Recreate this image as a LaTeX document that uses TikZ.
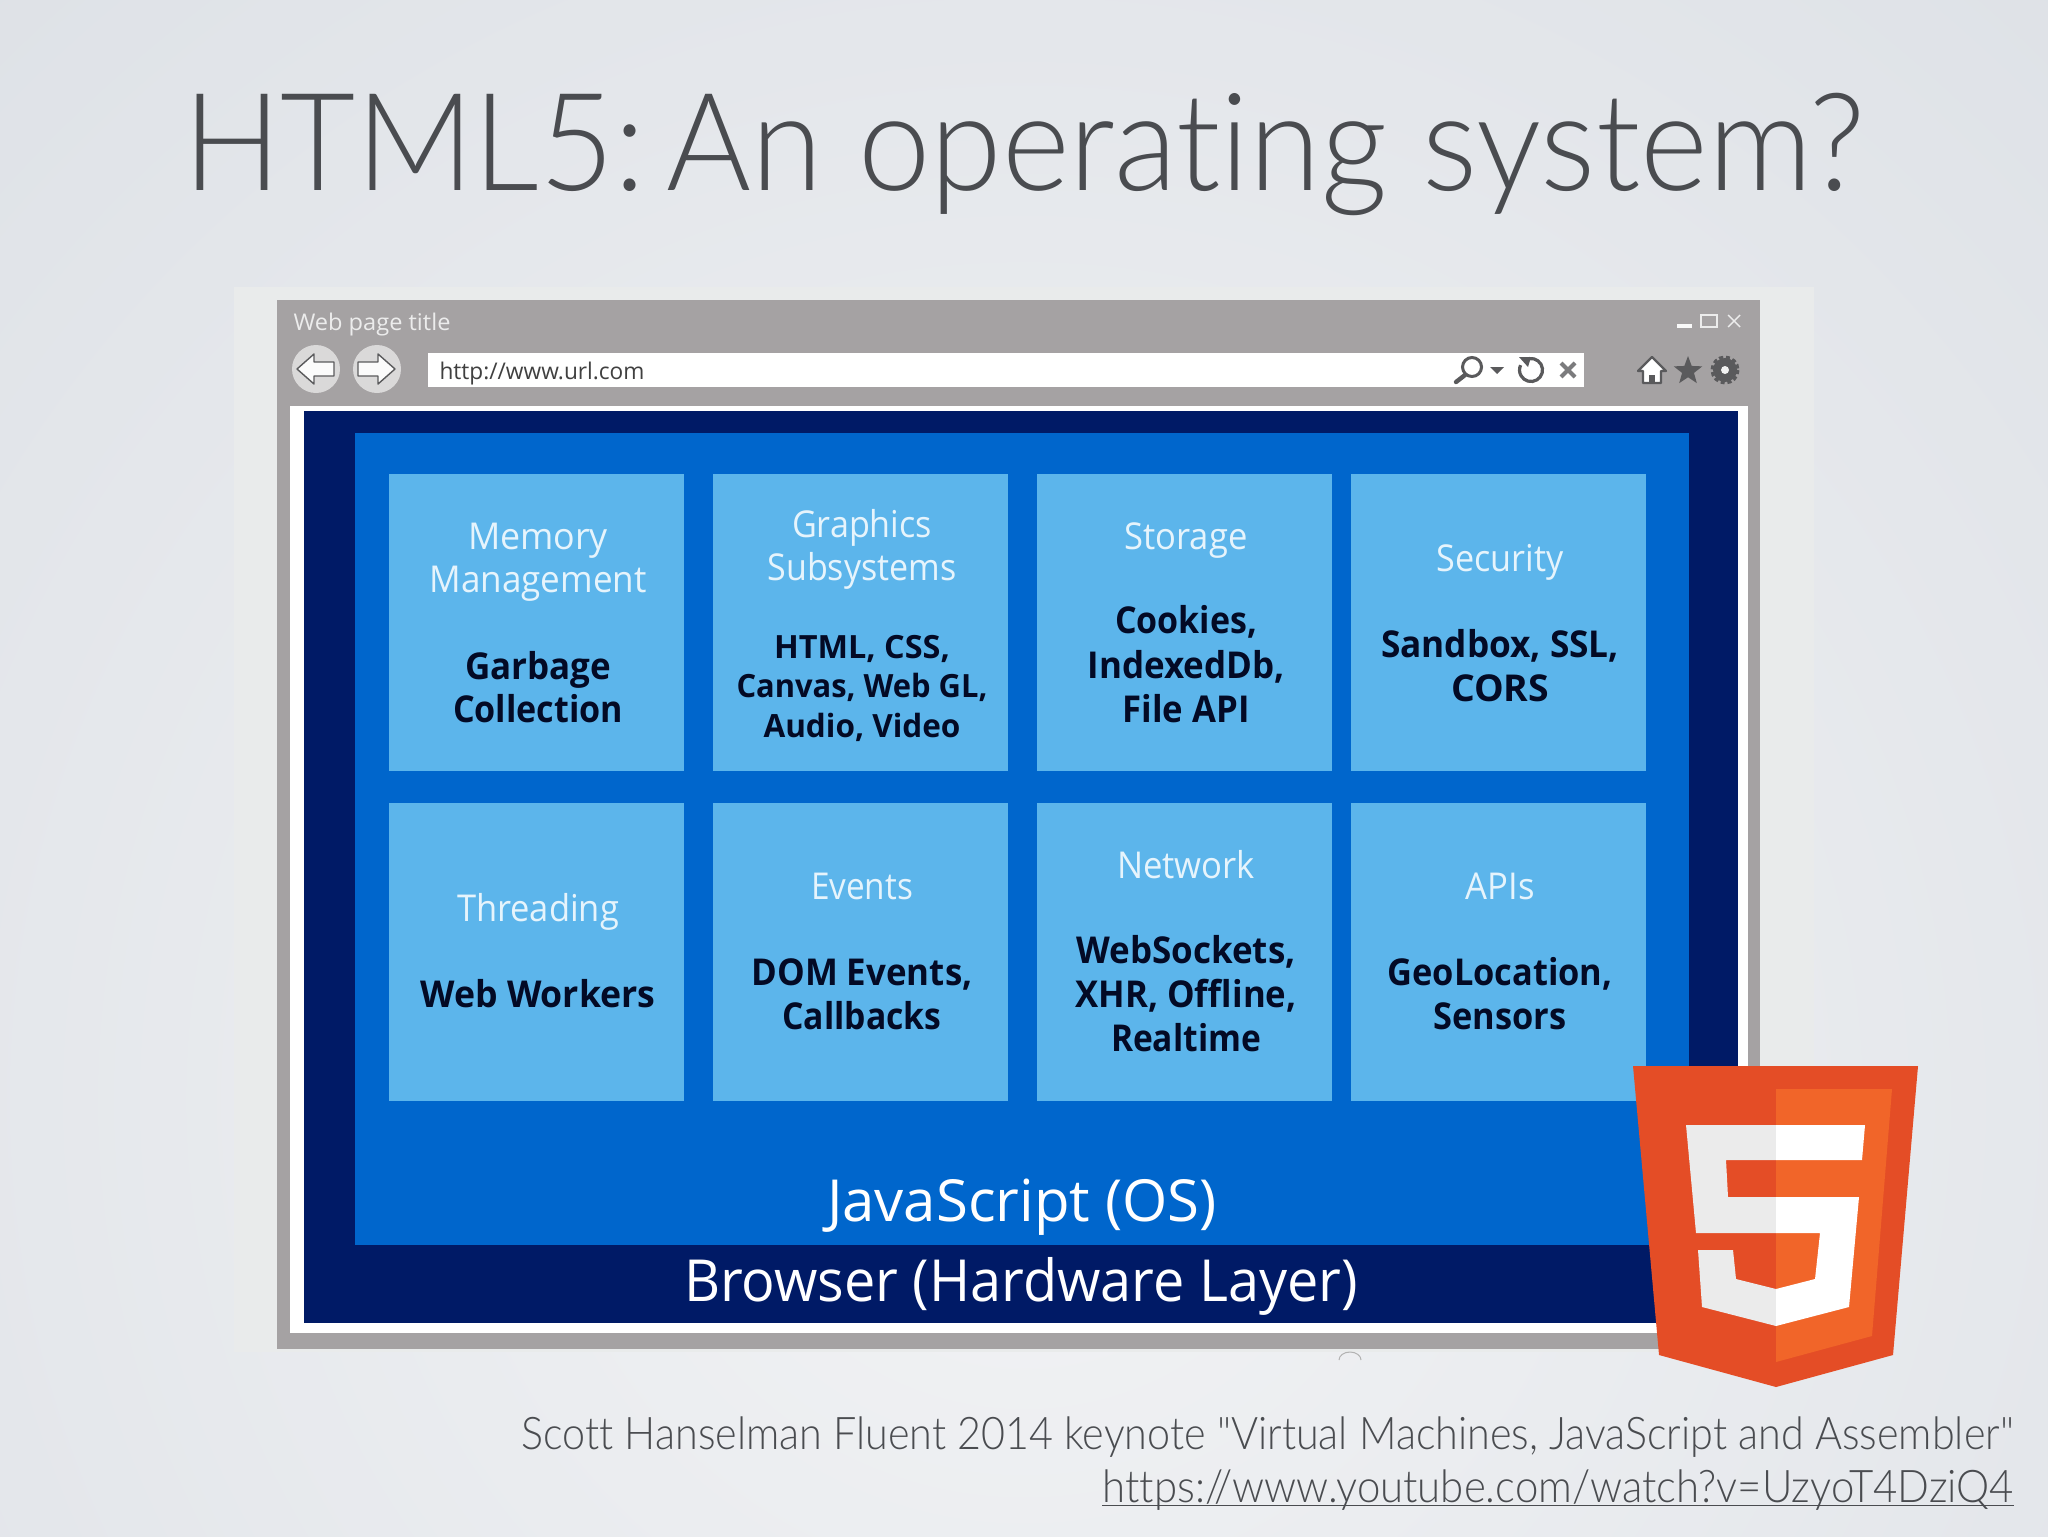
\documentclass[tikz,border=0pt]{standalone}
\usepackage{fontspec}
\usepackage{graphicx}
\usetikzlibrary{shapes.geometric}
\setmainfont{Open Sans}
\newfontfamily\gillish[Ligatures=NoCommon]{Lato Light}
\definecolor{wingray}{HTML}{A5A2A3}
\definecolor{navyb}{HTML}{001A66}
\definecolor{midb}{HTML}{0066CC}
\definecolor{tileb}{HTML}{5CB5EB}
\definecolor{inkg}{HTML}{4A4C50}
\definecolor{icong}{HTML}{5A5A5C}
\definecolor{ltext}{HTML}{E6F4FC}
\definecolor{dtext}{HTML}{030A25}
\definecolor{orA}{HTML}{E44D26}
\definecolor{orB}{HTML}{F16529}
\definecolor{bgin}{HTML}{F2F3F5}
\definecolor{bgout}{HTML}{CBD1D9}
\definecolor{panelg}{HTML}{E9EBEB}
\definecolor{btng}{HTML}{DAD9D9}
\pgfdeclareradialshading{bgsh}{\pgfpoint{0bp}{0bp}}{color(0bp)=(bgin); color(50bp)=(bgout)}
\newcommand\tline[6]{\node[#5,anchor=base,inner sep=0pt] (#1) at (#2,#3) {\resizebox{\dimexpr#4pt/2\relax}{\height}{#6}};}
\tikzset{
 tilehead/.style={font=\fontsize{18.5}{20}\selectfont,text=ltext},
 tilebody/.style={font=\fontsize{18.5}{20}\selectfont\bfseries,text=dtext},
 tilebodys/.style={font=\fontsize{16}{18}\selectfont\bfseries,text=dtext},
 bigw/.style={font=\fontsize{29}{30}\selectfont,text=white},
 foot/.style={font=\gillish\fontsize{22.5}{24}\selectfont,text=inkg},
 winbar/.style={font=\fontsize{11.5}{13}\selectfont},
 tile/.style={fill=tileb},
 ic/.style={draw=icong,line width=1.6pt},
}
\begin{document}
\begin{tikzpicture}[x=0.5pt,y=-0.5pt]
\useasboundingbox (0,0) rectangle (2048,1536);
\begin{scope}
\clip (0,0) rectangle (2048,1536);
\shade[shading=bgsh] (-476,-400) rectangle (2524,2600);
\end{scope}
% title
\tline{title}{1024}{190}{1682}{font=\gillish\fontsize{68}{80}\selectfont,text=inkg}{HTML5:\hspace{-0.2em} An operating system?}
% panel & window
\fill[panelg] (234,287) rectangle (1814,1352);
\fill[wingray] (277,300) rectangle (1760,1349);
\fill[white] (290,406) rectangle (1748,1333);
\fill[navyb] (304,411) rectangle (1738,1323);
\fill[midb] (355,433) rectangle (1689,1245);
% title bar
\tline{wintitle}{372}{330}{157}{winbar,text=white!85!gray}{Web page title}
\fill[white!95!gray] (1677,324) rectangle (1692,328);
\draw[white!85!gray,line width=.9pt] (1701,315) rectangle (1717,327);
\draw[white!85!gray,line width=.7pt] (1728,315) -- (1740,327) (1740,315) -- (1728,327);
% back / forward
\node[circle,fill=btng,minimum size=24pt,inner sep=0pt] (backb) at (316,369) {};
\node[circle,fill=btng,minimum size=24pt,inner sep=0pt] (fwdb) at (377,369) {};
\draw[icong,line width=.7pt,fill=white!97!gray,line join=round] (297,369) -- (314,354) -- (314,362) -- (334,362) -- (334,376) -- (314,376) -- (314,384) -- cycle;
\draw[icong,line width=.7pt,fill=white!97!gray,line join=round] (395,369) -- (378,354) -- (378,362) -- (358,362) -- (358,376) -- (378,376) -- (378,384) -- cycle;
% url bar
\fill[white] (428,353) rectangle (1584,387);
\tline{url}{542}{379}{205}{winbar,text=black!75}{http://www.url.com}
\draw[ic,line width=1.5pt] (1472,367) circle (9.5);
\draw[icong,line width=2.2pt,line cap=round] (1465,375) -- (1456,382);
\fill[icong] (1490,367) -- (1504,367) -- (1497,374) -- cycle;
\draw[ic,line width=1.6pt] (1531,370) ++(-120:11.5) arc (-120:205:11.5);
\fill[icong] (1519,357) -- (1531,357) -- (1528,367) -- cycle;
\draw[icong!80,line width=2pt] (1561,363) -- (1575,377) (1575,363) -- (1561,377);
% home star gear
\draw[icong,line width=1.1pt,fill=white,line join=round] (1638,371) -- (1652,357) -- (1666,371) -- (1661,371) -- (1661,383) -- (1643,383) -- (1643,371) -- cycle;
\fill[icong] (1649,375) rectangle (1655,383);
\node[star,star points=5,star point ratio=2.4,fill=icong,minimum size=15pt,inner sep=0pt] (starb) at (1688,371) {};
\draw[icong,line width=2pt,dash pattern=on 2pt off 1.3pt] (1725,370) circle (12.5);
\fill[icong] (1725,370) circle (12);
\fill[white!90!gray] (1725,370) circle (4);
% tiles
\foreach \xa/\xb in {389/684,713/1008,1037/1332,1351/1646}{
 \fill[tile] (\xa,474) rectangle (\xb,771);
 \fill[tile] (\xa,803) rectangle (\xb,1101);
}
% text row 1
\tline{a1}{538}{549}{140}{tilehead}{Memory}
\tline{a2}{538}{592}{217}{tilehead}{Management}
\tline{a3}{538}{679}{146}{tilebody}{Garbage}
\tline{a4}{538}{722}{170}{tilebody}{Collection}
\tline{b1}{862}{537}{140}{tilehead}{Graphics}
\tline{b2}{862}{580}{189}{tilehead}{Subsystems}
\tline{b3}{862}{658}{176}{tilebodys}{HTML, CSS,}
\tline{b4}{862}{697}{251}{tilebodys}{Canvas, Web GL,}
\tline{b5}{862}{737}{197}{tilebodys}{Audio, Video}
\tline{c1}{1186}{549}{123}{tilehead}{Storage}
\tline{c2}{1186}{633}{142}{tilebody}{Cookies,}
\tline{c3}{1186}{678}{197}{tilebody}{IndexedDb,}
\tline{c4}{1186}{722}{127}{tilebody}{File API}
\tline{d1}{1500}{571}{127}{tilehead}{Security}
\tline{d2}{1500}{657}{238}{tilebody}{Sandbox, SSL,}
\tline{d3}{1500}{701}{98}{tilebody}{CORS}
% text row 2
\tline{e1}{538}{921}{162}{tilehead}{Threading}
\tline{e2}{538}{1007}{235}{tilebody}{Web Workers}
\tline{f1}{862}{899}{102}{tilehead}{Events}
\tline{f2}{862}{985}{221}{tilebody}{DOM Events,}
\tline{f3}{862}{1029}{159}{tilebody}{Callbacks}
\tline{g1}{1186}{878}{138}{tilehead}{Network}
\tline{g2}{1186}{963}{219}{tilebody}{WebSockets,}
\tline{g3}{1186}{1007}{221}{tilebody}{XHR, Offline,}
\tline{g4}{1186}{1051}{150}{tilebody}{Realtime}
\tline{h1}{1500}{899}{69}{tilehead}{APIs}
\tline{h2}{1500}{985}{225}{tilebody}{GeoLocation,}
\tline{h3}{1500}{1029}{133}{tilebody}{Sensors}
% layers
\tline{jsos}{1022}{1221}{390}{bigw}{JavaScript (OS)}
\tline{brow}{1021}{1301}{674}{bigw}{Browser (Hardware Layer)}
% small arc
\draw[black!30,line width=.5pt] (1339,1360) arc (-180:0:11 and 8);
% logo
\fill[orA] (1633,1066) -- (1918,1066) -- (1893,1355) -- (1776,1387) -- (1659,1355) -- cycle;
\fill[orB] (1776,1089) -- (1892,1089) -- (1872,1336) -- (1776,1362) -- cycle;
\begin{scope}
\clip (1600,1040) rectangle (1776,1400);
\fill[white!92!black] (1686,1125) -- (1865,1125) -- (1862,1160) -- (1726,1160) -- (1728,1197) -- (1859,1197) -- (1849,1307) -- (1776,1326) -- (1702,1307) -- (1698,1250) -- (1733,1250) -- (1736,1279) -- (1776,1289) -- (1815,1279) -- (1820,1233) -- (1696,1233) -- cycle;
\end{scope}
\begin{scope}
\clip (1776,1040) rectangle (1950,1400);
\fill[white] (1686,1125) -- (1865,1125) -- (1862,1160) -- (1726,1160) -- (1728,1197) -- (1859,1197) -- (1849,1307) -- (1776,1326) -- (1702,1307) -- (1698,1250) -- (1733,1250) -- (1736,1279) -- (1776,1289) -- (1815,1279) -- (1820,1233) -- (1696,1233) -- cycle;
\end{scope}
% footer
\node[foot,anchor=base east,inner sep=0pt] (foot1) at (2014,1449) {\resizebox{746pt}{\height}{Scott Hanselman Fluent 2014 keynote "Virtual Machines, JavaScript and Assembler"}};
\node[foot,anchor=base east,inner sep=0pt] (foot2) at (2014,1502) {\resizebox{455.5pt}{\height}{https://www.youtube.com/watch?v=UzyoT4DziQ4}};
\draw[inkg,line width=.9pt] (foot2.base west |- 0,1505.5) -- (foot2.base east |- 0,1505.5);
\end{tikzpicture}
\end{document}
